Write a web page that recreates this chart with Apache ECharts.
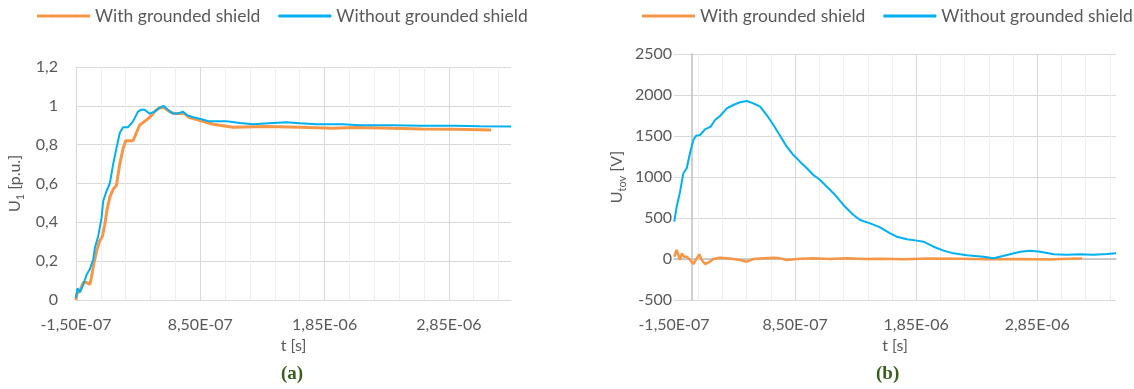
<!DOCTYPE html>
<html>
<head>
<meta charset="utf-8">
<script src="https://cdn.jsdelivr.net/npm/echarts@6/dist/echarts.min.js"></script>
<style>
  html, body { margin: 0; padding: 0; background: #fff; }
  #chart { width: 1134px; height: 389px; }
</style>
</head>
<body>
<div id="chart"></div>
<script>
// ---------- Data (time in seconds) ----------
const seriesNames = ['With grounded shield', 'Without grounded shield'];

// Chart (a): U1 [p.u.]
const tA_with = [-0.150e-6, -0.145e-6, -0.118e-6, -0.091e-6, -0.065e-6, -0.038e-6, -0.025e-6, -0.006e-6, 0.015e-6, 0.037e-6, 0.063e-6, 0.082e-6, 0.101e-6, 0.122e-6, 0.149e-6, 0.175e-6, 0.202e-6, 0.229e-6, 0.250e-6, 0.277e-6, 0.309e-6, 0.335e-6, 0.362e-6, 0.402e-6, 0.442e-6, 0.482e-6, 0.522e-6, 0.562e-6, 0.602e-6, 0.642e-6, 0.682e-6, 0.722e-6, 0.762e-6, 0.815e-6, 0.869e-6, 0.953e-6, 1.113e-6, 1.382e-6, 1.649e-6, 1.917e-6, 2.091e-6, 2.400e-6, 2.627e-6, 2.900e-6, 3.190e-6];
const uA_with = [0.00, 0.03, 0.05, 0.09, 0.09, 0.08, 0.12, 0.19, 0.25, 0.30, 0.33, 0.39, 0.47, 0.53, 0.57, 0.59, 0.70, 0.78, 0.82, 0.82, 0.82, 0.86, 0.90, 0.92, 0.94, 0.97, 0.99, 0.99, 0.97, 0.96, 0.96, 0.96, 0.94, 0.93, 0.92, 0.905, 0.89, 0.893, 0.89, 0.885, 0.888, 0.885, 0.881, 0.879, 0.876];

const tA_without = [-0.150e-6, -0.139e-6, -0.118e-6, -0.091e-6, -0.065e-6, -0.038e-6, -0.011e-6, 0.002e-6, 0.029e-6, 0.055e-6, 0.069e-6, 0.095e-6, 0.122e-6, 0.149e-6, 0.175e-6, 0.202e-6, 0.229e-6, 0.269e-6, 0.309e-6, 0.349e-6, 0.375e-6, 0.402e-6, 0.442e-6, 0.482e-6, 0.522e-6, 0.554e-6, 0.589e-6, 0.629e-6, 0.669e-6, 0.709e-6, 0.749e-6, 0.802e-6, 0.869e-6, 0.922e-6, 1.060e-6, 1.170e-6, 1.274e-6, 1.400e-6, 1.542e-6, 1.650e-6, 1.783e-6, 2.000e-6, 2.131e-6, 2.400e-6, 2.627e-6, 2.900e-6, 3.100e-6, 3.350e-6];
const uA_without = [0.01, 0.06, 0.04, 0.08, 0.13, 0.16, 0.21, 0.27, 0.33, 0.42, 0.51, 0.56, 0.60, 0.70, 0.78, 0.86, 0.89, 0.89, 0.92, 0.97, 0.98, 0.98, 0.96, 0.97, 0.99, 1.00, 0.98, 0.96, 0.96, 0.97, 0.95, 0.94, 0.93, 0.92, 0.92, 0.912, 0.905, 0.91, 0.915, 0.91, 0.905, 0.905, 0.90, 0.90, 0.898, 0.897, 0.895, 0.893];

// Chart (b): Utov [V]
const tB_with = [-0.148e-6, -0.128e-6, -0.114e-6, -0.100e-6, -0.086e-6, -0.067e-6, -0.045e-6, -0.018e-6, 0.010e-6, 0.038e-6, 0.059e-6, 0.079e-6, 0.106e-6, 0.133e-6, 0.175e-6, 0.230e-6, 0.286e-6, 0.340e-6, 0.395e-6, 0.451e-6, 0.505e-6, 0.588e-6, 0.671e-6, 0.726e-6, 0.781e-6, 0.864e-6, 1.001e-6, 1.139e-6, 1.277e-6, 1.414e-6, 1.552e-6, 1.750e-6, 1.950e-6, 2.200e-6, 2.450e-6, 2.700e-6, 2.950e-6, 3.100e-6, 3.220e-6];
const vB_with = [28, 110, 130, -12, 69, 28, 28, -12, -61, 8, 57, -12, -61, -45, 0, 16, 8, 0, -12, -33, 0, 8, 16, 8, -12, 0, 8, 0, 8, 0, 4, -4, 6, 2, -3, 0, -5, 4, 6];

const tB_without = [-0.148e-6, -0.128e-6, -0.100e-6, -0.073e-6, -0.045e-6, -0.018e-6, 0.010e-6, 0.032e-6, 0.065e-6, 0.106e-6, 0.153e-6, 0.189e-6, 0.230e-6, 0.286e-6, 0.340e-6, 0.395e-6, 0.451e-6, 0.505e-6, 0.561e-6, 0.616e-6, 0.671e-6, 0.726e-6, 0.781e-6, 0.836e-6, 0.891e-6, 0.947e-6, 1.001e-6, 1.057e-6, 1.098e-6, 1.181e-6, 1.249e-6, 1.332e-6, 1.387e-6, 1.470e-6, 1.552e-6, 1.635e-6, 1.690e-6, 1.773e-6, 1.856e-6, 1.910e-6, 1.993e-6, 2.076e-6, 2.158e-6, 2.269e-6, 2.406e-6, 2.489e-6, 2.600e-6, 2.710e-6, 2.792e-6, 2.875e-6, 2.985e-6, 3.095e-6, 3.205e-6, 3.315e-6, 3.426e-6, 3.500e-6];
const vB_without = [455, 638, 821, 1045, 1106, 1289, 1451, 1504, 1512, 1581, 1614, 1695, 1744, 1837, 1878, 1911, 1927, 1898, 1858, 1756, 1634, 1504, 1370, 1268, 1187, 1106, 1024, 963, 902, 780, 659, 537, 476, 435, 386, 313, 272, 240, 224, 211, 150, 102, 69, 45, 28, 8, 49, 89, 102, 89, 57, 53, 57, 53, 61, 69];

// Axis ranges
const xMinA = -1.5e-7, xMaxA = 3.35e-6;
const xMinB = -1.5e-7, xMaxB = 3.5e-6;
const yMinA = 0, yMaxA = 1.2, yStepA = 0.2;
const yMinB = -500, yMaxB = 2500, yStepB = 500;
const xMajor = 1e-6, xMinor = 2e-7;

// ---------- Helpers ----------
const FONT = 'Lato';
const TXT = '#595959';
const ORANGE = '#F79646';
const BLUE = '#00B0F0';

function zip(t, v) { return t.map((x, i) => [x, v[i]]); }
function fmtE(v) {
  const s = Number(v).toExponential(2);
  const i = s.indexOf('e');
  const m = s.slice(0, i).replace('.', ',');
  const e = parseInt(s.slice(i + 1), 10);
  return m + 'E' + (e < 0 ? '-' : '+') + String(Math.abs(e)).padStart(2, '0');
}

function xAxesFor(grid, min, max, showBottomLine, showMin) {
  return [
    { // minor gridlines (data axis)
      type: 'value', gridIndex: grid, min: min, max: max, interval: xMinor, position: 'bottom',
      axisLine: { show: showBottomLine, onZero: false, lineStyle: { color: '#D9D9D9', width: 1 } },
      axisTick: { show: false }, axisLabel: { show: false },
      splitLine: { show: true, showMaxLine: false, showMinLine: showMin, lineStyle: { color: '#EEEEEE', width: 1 } }
    },
    { // major gridlines + labels
      type: 'value', gridIndex: grid, min: min, max: max, interval: xMajor, position: 'bottom',
      axisLine: { show: false, onZero: false }, axisTick: { show: false },
      axisLabel: { formatter: fmtE, showMaxLabel: false, margin: 17, color: TXT, fontSize: 16, fontFamily: FONT },
      splitLine: { show: true, showMaxLine: false, showMinLine: showMin, lineStyle: { color: '#D9D9D9', width: 1 } },
      name: 't [s]', nameLocation: 'middle', nameGap: 37,
      nameTextStyle: { color: TXT, fontSize: 16, fontFamily: FONT }
    }
  ];
}

const legendBase = { data: seriesNames, top: 7, padding: 0, icon: 'rect', itemWidth: 53, itemHeight: 3, itemGap: 18,
  textStyle: { color: TXT, fontSize: 17.5, fontFamily: FONT } };

const option = {
  animation: false,
  backgroundColor: '#ffffff',
  textStyle: { fontFamily: FONT },
  color: [ORANGE, BLUE],
  legend: [
    Object.assign({}, legendBase, { left: 37 }),
    Object.assign({}, legendBase, { left: 642 })
  ],
  grid: [
    { left: 76, top: 67, width: 435, height: 233 },
    { left: 674, top: 54, width: 442, height: 246 }
  ],
  xAxis: [
    ...xAxesFor(0, xMinA, xMaxA, true, true),
    ...xAxesFor(1, xMinB, xMaxB, false, false),
    { // zero line (U = 0) for chart (b)
      type: 'value', gridIndex: 1, min: xMinB, max: xMaxB, position: 'bottom',
      axisLine: { show: true, onZero: true, onZeroAxisIndex: 1, lineStyle: { color: '#BFBFBF', width: 1.5 } },
      axisTick: { show: false }, axisLabel: { show: false }, splitLine: { show: false }
    }
  ],
  yAxis: [
    {
      type: 'value', gridIndex: 0, min: yMinA, max: yMaxA, interval: yStepA,
      axisLine: { show: true, onZero: false, lineStyle: { color: '#D9D9D9', width: 1 } },
      axisTick: { show: false },
      axisLabel: { margin: 18, color: TXT, fontSize: 16, fontFamily: FONT,
        formatter: v => String(Math.round(v * 10) / 10).replace('.', ',') },
      splitLine: { show: true, lineStyle: { color: '#D9D9D9', width: 1 } },
      name: '{m|U}{s|1}{m| [p.u.]}', nameLocation: 'middle', nameGap: 50,
      nameTextStyle: { color: TXT, rich: {
        m: { fontSize: 16, fontFamily: FONT, color: TXT, lineHeight: 22, verticalAlign: 'middle' },
        s: { fontSize: 11, fontFamily: FONT, color: TXT, lineHeight: 22, verticalAlign: 'bottom' } } }
    },
    {
      type: 'value', gridIndex: 1, min: yMinB, max: yMaxB, interval: yStepB,
      axisLine: { show: false, onZero: false }, axisTick: { show: false },
      axisLabel: { margin: 2, color: TXT, fontSize: 16, fontFamily: FONT, formatter: v => String(v) },
      splitLine: { show: true, lineStyle: { color: '#D9D9D9', width: 1 } },
      name: '{m|U}{s|tov}{m| [V]}', nameLocation: 'middle', nameGap: 46,
      nameTextStyle: { color: TXT, rich: {
        m: { fontSize: 16, fontFamily: FONT, color: TXT, lineHeight: 22, verticalAlign: 'middle' },
        s: { fontSize: 11, fontFamily: FONT, color: TXT, lineHeight: 22, verticalAlign: 'bottom' } } }
    },
    { // zero line (t = 0) for chart (b)
      type: 'value', gridIndex: 1, min: yMinB, max: yMaxB, position: 'left',
      axisLine: { show: true, onZero: true, onZeroAxisIndex: 2, lineStyle: { color: '#BFBFBF', width: 1.5 } },
      axisTick: { show: false }, axisLabel: { show: false }, splitLine: { show: false }
    }
  ],
  graphic: [
    { type: 'text', left: 281, top: 365, style: { text: '(a)', fill: '#3B5E1F', font: 'bold 19px "Liberation Serif"' } },
    { type: 'text', left: 876, top: 365, style: { text: '(b)', fill: '#3B5E1F', font: 'bold 19px "Liberation Serif"' } }
  ],
  series: [
    { name: seriesNames[0], type: 'line', xAxisIndex: 0, yAxisIndex: 0, data: zip(tA_with, uA_with),
      showSymbol: false, symbol: 'none', lineStyle: { color: ORANGE, width: 3 }, itemStyle: { color: ORANGE } },
    { name: seriesNames[1], type: 'line', xAxisIndex: 0, yAxisIndex: 0, data: zip(tA_without, uA_without),
      showSymbol: false, symbol: 'none', lineStyle: { color: BLUE, width: 2 }, itemStyle: { color: BLUE } },
    { name: seriesNames[0], type: 'line', xAxisIndex: 2, yAxisIndex: 1, data: zip(tB_with, vB_with),
      showSymbol: false, symbol: 'none', lineStyle: { color: ORANGE, width: 2.5 }, itemStyle: { color: ORANGE } },
    { name: seriesNames[1], type: 'line', xAxisIndex: 2, yAxisIndex: 1, data: zip(tB_without, vB_without),
      showSymbol: false, symbol: 'none', lineStyle: { color: BLUE, width: 2 }, itemStyle: { color: BLUE } }
  ]
};

const chart = echarts.init(document.getElementById('chart'), null, { renderer: 'canvas' });
chart.setOption(option);
</script>
</body>
</html>
